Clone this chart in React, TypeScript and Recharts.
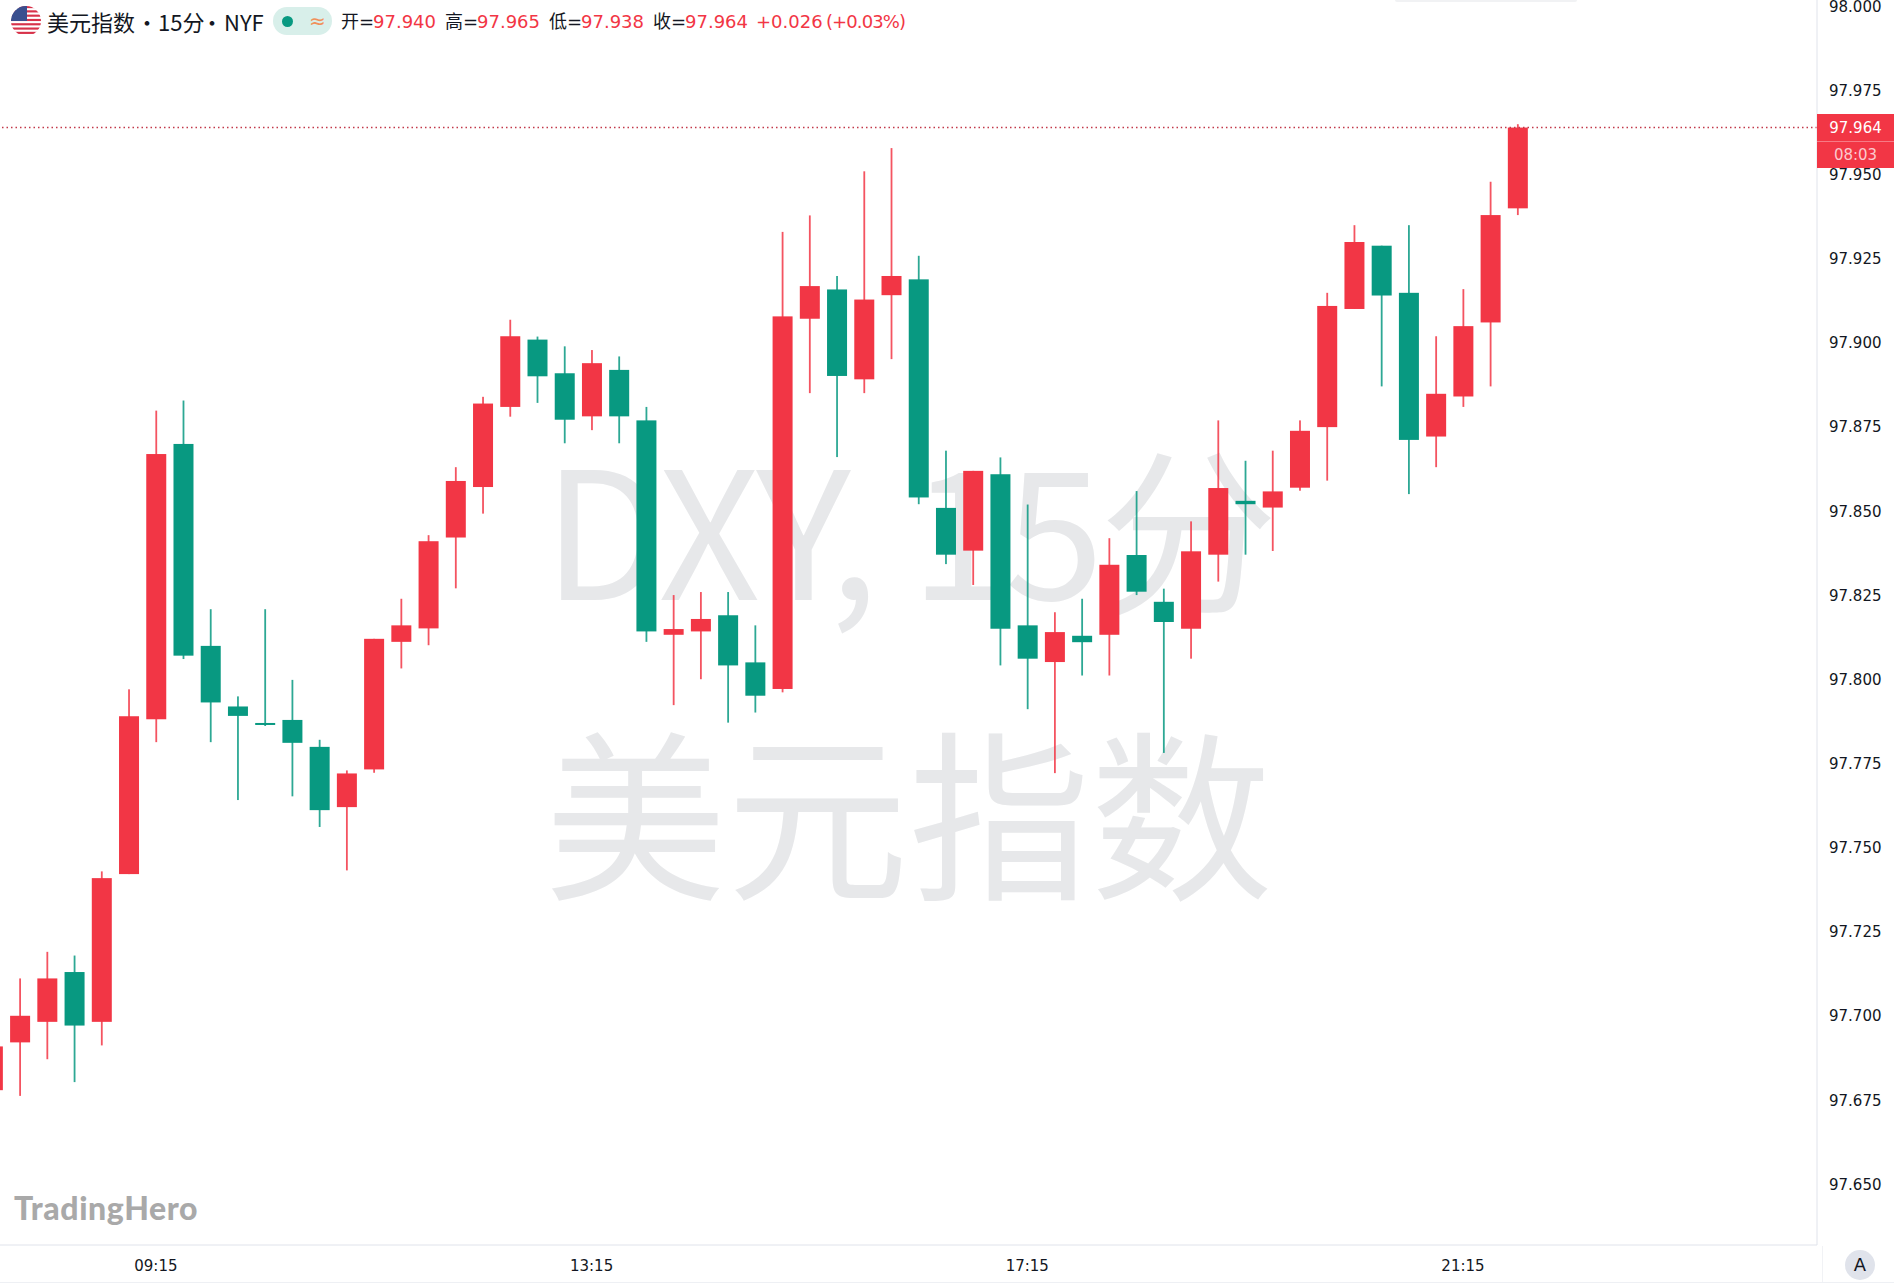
import { Bar, ComposedChart, ReferenceLine, XAxis, YAxis } from 'recharts';

const UP = '#F23645';
const DOWN = '#089981';
const AXIS_LINE = '#e0e3eb';
const TEXT = '#131722';
const AXIS_FONT = '"DejaVu Sans", sans-serif';
const CJK_FONT = '"Noto Sans CJK SC", sans-serif';
const WATERMARK = '#e7e8ea';

// 15 minute bars, left to right; the first one is cut by the left edge
const opens = [
  97.678, 97.6922, 97.6983, 97.7131, 97.6983, 97.7422, 97.7882, 97.87, 97.81, 97.792,
  97.7871, 97.788, 97.78, 97.7621, 97.7733, 97.8112, 97.8152, 97.8422, 97.8572, 97.881,
  97.901, 97.891, 97.8782, 97.892, 97.877, 97.8133, 97.8143, 97.8191, 97.8051, 97.7972,
  97.9072, 97.9159, 97.8892, 97.9142, 97.9189, 97.851, 97.8383, 97.861, 97.8161, 97.8052,
  97.813, 97.8133, 97.837, 97.8231, 97.8151, 97.8371, 97.8531, 97.8511, 97.857, 97.875,
  97.9101, 97.9289, 97.9149, 97.8722, 97.8841, 97.9061, 97.94,
];
const highs = [
  97.693, 97.7112, 97.7191, 97.718, 97.743, 97.7971, 97.8799, 97.8829, 97.8209, 97.795,
  97.8209, 97.7999, 97.7821, 97.773, 97.8121, 97.824, 97.8429, 97.8631, 97.884, 97.9069,
  97.9019, 97.899, 97.8979, 97.896, 97.881, 97.8251, 97.826, 97.826, 97.8161, 97.933,
  97.9379, 97.9199, 97.951, 97.9579, 97.9259, 97.868, 97.862, 97.866, 97.852, 97.82,
  97.824, 97.842, 97.856, 97.827, 97.847, 97.877, 97.865, 97.868, 97.877, 97.9149,
  97.935, 97.9289, 97.935, 97.902, 97.916, 97.9479, 97.965,
];
const lows = [
  97.677, 97.6763, 97.6872, 97.6804, 97.6913, 97.7422, 97.7814, 97.8061, 97.7814, 97.7642,
  97.7862, 97.7653, 97.7562, 97.7433, 97.7723, 97.8033, 97.8102, 97.8271, 97.8493, 97.8781,
  97.8822, 97.8702, 97.8741, 97.8702, 97.8112, 97.7924, 97.8001, 97.7872, 97.7902, 97.7962,
  97.8851, 97.8661, 97.8851, 97.8952, 97.8521, 97.8343, 97.8281, 97.8042, 97.7912, 97.7722,
  97.8012, 97.8012, 97.8251, 97.7782, 97.8062, 97.8291, 97.8371, 97.8382, 97.8561, 97.8591,
  97.9101, 97.8871, 97.8551, 97.8631, 97.881, 97.8871, 97.938,
];
const closes = [
  97.691, 97.7001, 97.7112, 97.6972, 97.741, 97.7891, 97.867, 97.8071, 97.7932, 97.7892,
  97.7867, 97.7812, 97.7612, 97.7721, 97.8121, 97.8161, 97.8411, 97.859, 97.882, 97.902,
  97.8901, 97.8772, 97.894, 97.8782, 97.8143, 97.815, 97.818, 97.8042, 97.7952, 97.9079,
  97.9169, 97.8902, 97.9129, 97.9199, 97.8541, 97.8371, 97.862, 97.8151, 97.8062, 97.8141,
  97.8111, 97.8341, 97.8261, 97.8171, 97.8381, 97.8569, 97.8521, 97.8559, 97.8739, 97.911,
  97.93, 97.9141, 97.8712, 97.8849, 97.905, 97.938, 97.964,
];

const priceTicks = [
  98, 97.975, 97.95, 97.925, 97.9, 97.875, 97.85, 97.825, 97.8, 97.775, 97.75, 97.725, 97.7,
  97.675, 97.65,
];
const timeLabels = ['09:15', '13:15', '17:15', '21:15'];
const timeSlots = [6, 22, 38, 54];

const LAST_CLOSE = 97.964;

const candles = opens.map((open, i) => ({
  slot: i,
  open,
  close: closes[i],
  range: [lows[i], highs[i]],
}));

function Candle(props: any) {
  const { x, y, width, height, payload } = props;
  const [low, high] = payload.range;
  const perUnit = height / (high - low);
  const top = y + (high - Math.max(payload.open, payload.close)) * perUnit;
  const bottom = y + (high - Math.min(payload.open, payload.close)) * perUnit;
  const color = payload.close >= payload.open ? UP : DOWN;
  return (
    <g>
      <rect x={x + width / 2 - 0.9} y={y} width={1.8} height={height} fill={color} fillOpacity={0.85} />
      <rect x={x} y={top} width={width} height={Math.max(bottom - top, 2)} fill={color} />
    </g>
  );
}

function Flag() {
  const stripes = [0, 1, 2, 3, 4, 5, 6];
  return (
    <svg width={30} height={30} style={{ position: 'absolute', left: 11, top: 6 }}>
      <defs>
        <clipPath id="flag-clip">
          <circle cx={15} cy={15} r={15} />
        </clipPath>
      </defs>
      <g clipPath="url(#flag-clip)">
        <rect width={30} height={30} fill="#fff" />
        {stripes.map((s) => (
          <rect key={s} x={0} y={s * 4.3} width={30} height={2.15} fill="#d8324a" />
        ))}
        <rect x={0} y={0} width={16} height={15} fill="#3a4f8f" />
      </g>
    </svg>
  );
}

function HeaderText({ x, color, spacing, children }: { x: number; color: string; spacing?: number; children: any }) {
  return (
    <div
      style={{
        position: 'absolute',
        left: x,
        top: 8,
        lineHeight: '27px',
        fontSize: 18,
        color,
        letterSpacing: spacing,
        whiteSpace: 'nowrap',
        fontFamily: `"DejaVu Sans", ${CJK_FONT}`,
      }}
    >
      {children}
    </div>
  );
}

function TitleText({ x, children }: { x: number; children: any }) {
  return (
    <div
      style={{
        position: 'absolute',
        left: x,
        top: 7,
        lineHeight: '29px',
        fontSize: 22,
        color: TEXT,
        fontFamily: CJK_FONT,
        whiteSpace: 'nowrap',
      }}
    >
      {children}
    </div>
  );
}

export default function App() {
  return (
    <div
      style={{
        position: 'absolute',
        left: 0,
        top: 0,
        width: 1894,
        height: 1284,
        background: '#fff',
        overflow: 'hidden',
      }}
    >
      {/* watermark */}
      <div
        style={{
          position: 'absolute',
          left: 0,
          width: 1817,
          top: 398,
          textAlign: 'center',
          fontFamily: CJK_FONT,
          fontSize: 178,
          letterSpacing: -4,
          lineHeight: '250px',
          color: WATERMARK,
          whiteSpace: 'nowrap',
        }}
      >
        DXY, 15分
      </div>
      <div
        style={{
          position: 'absolute',
          left: 0,
          width: 1817,
          top: 682,
          textAlign: 'center',
          fontFamily: CJK_FONT,
          fontSize: 182,
          lineHeight: '250px',
          color: WATERMARK,
          whiteSpace: 'nowrap',
        }}
      >
        美元指数
      </div>

      <div style={{ position: 'absolute', left: 0, top: 0 }}>
        <ComposedChart
          width={1894}
          height={1284}
          data={candles}
          margin={{ top: 0, right: 0, bottom: 0, left: 0 }}
        >
          <XAxis
            dataKey="slot"
            type="number"
            domain={[0.276, 67.0]}
            allowDataOverflow
            ticks={timeSlots}
            interval={0}
            height={39}
            tickFormatter={(v: number) => timeLabels[timeSlots.indexOf(v)]}
            tick={{ fill: TEXT, fontSize: 15, fontFamily: AXIS_FONT }}
            axisLine={{ stroke: AXIS_LINE }}
            tickLine={false}
            tickMargin={9}
          />
          <YAxis
            orientation="right"
            width={77}
            type="number"
            domain={[97.632, 98.0019]}
            allowDataOverflow
            ticks={priceTicks}
            interval={0}
            tickFormatter={(v: number) => v.toFixed(3)}
            tick={{ fill: TEXT, fontSize: 15, fontFamily: AXIS_FONT }}
            axisLine={{ stroke: AXIS_LINE }}
            tickLine={false}
            tickMargin={6}
          />
          <ReferenceLine y={LAST_CLOSE} stroke="#c2394a" strokeDasharray="1.5 3" strokeWidth={1.4} />
          <Bar dataKey="range" barSize={20} shape={Candle} isAnimationActive={false} />
        </ComposedChart>
      </div>

      {/* legend line */}
      <Flag />
      <TitleText x={47}>美元指数</TitleText>
      <TitleText x={136}>•</TitleText>
      <TitleText x={158}>15分</TitleText>
      <TitleText x={201}>•</TitleText>
      <TitleText x={224}>NYF</TitleText>
      <div
        style={{
          position: 'absolute',
          left: 273,
          top: 7,
          width: 59,
          height: 28,
          borderRadius: 14,
          background: '#d8efea',
        }}
      >
        <div
          style={{
            position: 'absolute',
            left: 9,
            top: 8.5,
            width: 11,
            height: 11,
            borderRadius: '50%',
            background: DOWN,
          }}
        />
        <div
          style={{
            position: 'absolute',
            left: 36,
            top: 0,
            lineHeight: '28px',
            fontSize: 20,
            color: '#f0915a',
            fontFamily: AXIS_FONT,
          }}
        >
          ≈
        </div>
      </div>
      <HeaderText x={341} color={TEXT}>开=</HeaderText>
      <HeaderText x={373} color={UP}>97.940</HeaderText>
      <HeaderText x={445} color={TEXT}>高=</HeaderText>
      <HeaderText x={477} color={UP}>97.965</HeaderText>
      <HeaderText x={549} color={TEXT}>低=</HeaderText>
      <HeaderText x={581} color={UP}>97.938</HeaderText>
      <HeaderText x={653} color={TEXT}>收=</HeaderText>
      <HeaderText x={685} color={UP}>97.964</HeaderText>
      <HeaderText x={756} color={UP}>+0.026</HeaderText>
      <HeaderText x={826} color={UP} spacing={-0.9}>(+0.03%)</HeaderText>

      {/* last price tag */}
      <div
        style={{
          position: 'absolute',
          left: 1817,
          top: 114,
          width: 77,
          height: 54,
          background: UP,
          fontFamily: AXIS_FONT,
          fontSize: 15,
          textAlign: 'center',
        }}
      >
        <div style={{ height: 27, lineHeight: '28px', color: '#fff' }}>97.964</div>
        <div style={{ height: 1, background: '#f77a85' }} />
        <div style={{ height: 26, lineHeight: '26px', color: '#fcc9ce' }}>08:03</div>
      </div>

      {/* logo */}
      <div
        style={{
          position: 'absolute',
          left: 14,
          top: 1187,
          lineHeight: '42px',
          fontSize: 32,
          fontWeight: 900,
          letterSpacing: 0.6,
          color: '#a9a9a9',
          fontFamily: 'Lato, sans-serif',
        }}
      >
        TradingHero
      </div>

      {/* auto scale button */}
      <div
        style={{
          position: 'absolute',
          left: 1845,
          top: 1250,
          width: 30,
          height: 30,
          borderRadius: '50%',
          background: AXIS_LINE,
          textAlign: 'center',
          lineHeight: '30px',
          fontSize: 18,
          color: TEXT,
          fontFamily: AXIS_FONT,
        }}
      >
        A
      </div>
      <div style={{ position: 'absolute', left: 1822, top: 1246, width: 1, height: 36, background: '#f1f2f5' }} />
      <div style={{ position: 'absolute', left: 0, top: 1282, width: 1894, height: 1, background: '#eef0f4' }} />
      <div style={{ position: 'absolute', left: 1395, top: 0, width: 182, height: 2, background: '#f1f2f4', borderRadius: '0 0 6px 6px' }} />
    </div>
  );
}
